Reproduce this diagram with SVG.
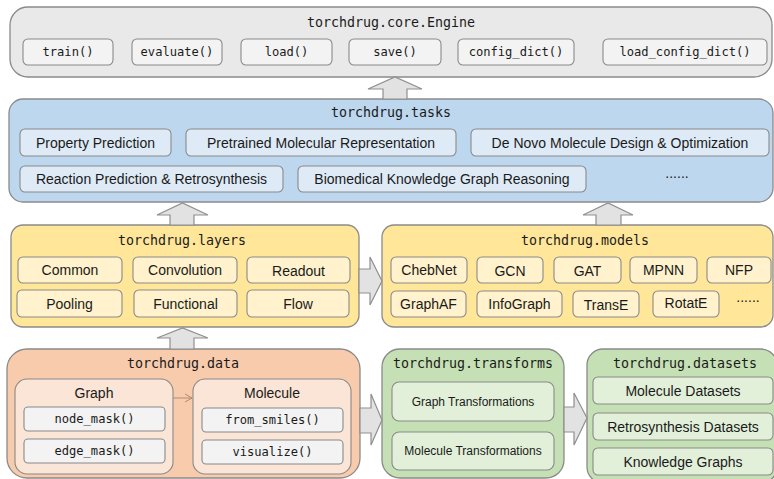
<svg xmlns="http://www.w3.org/2000/svg" width="774" height="479" viewBox="0 0 774 479">
<defs>
<style>
.box{stroke:#8a8a8a;stroke-width:1.3}
.btn{stroke:#8a8a8a;stroke-width:1.1}
.mono{font-family:"DejaVu Sans Mono","Liberation Mono",monospace;fill:#1a1a1a}
.title{font-size:13.3px}
.mb{font-size:12.1px}
.sans{font-family:"Liberation Sans",Arial,sans-serif;fill:#1a1a1a}
.s14{font-size:14px}
.s12{font-size:12px}
.grey{fill:#e9e9e9}
.greyb{fill:#f3f3f3}
.blue{fill:#bdd7ee}
.blueb{fill:#deebf7}
.yel{fill:#ffe699}
.yelb{fill:#fff2cc}
.ora{fill:#f8cbad}
.orab{fill:#fbe5d6}
.gre{fill:#c5e0b4}
.greb{fill:#e2f0d9}
.blk{fill:#e2e2e2;stroke:#8f8f8f;stroke-width:1.2;stroke-linejoin:miter}
text{text-anchor:middle;dominant-baseline:central}
</style>
<marker id="open" markerWidth="10" markerHeight="10" refX="8" refY="5" orient="auto" markerUnits="userSpaceOnUse">
<path d="M1,1 L8,5 L1,9" fill="none" stroke="#b08a74" stroke-width="1"/>
</marker>
</defs>

<g id="engine">
<rect class="box grey" x="10" y="7" width="762" height="70" rx="18"/>
<text class="mono title" x="391" y="22">torchdrug.core.Engine</text>
<rect class="btn greyb" x="23" y="39" width="90" height="26" rx="5"/>
<text class="mono mb" x="68" y="52">train()</text>
<rect class="btn greyb" x="132" y="39" width="90" height="26" rx="5"/>
<text class="mono mb" x="177" y="52">evaluate()</text>
<rect class="btn greyb" x="241" y="39" width="91" height="26" rx="5"/>
<text class="mono mb" x="286.5" y="52">load()</text>
<rect class="btn greyb" x="349" y="39" width="92" height="26" rx="5"/>
<text class="mono mb" x="395" y="52">save()</text>
<rect class="btn greyb" x="458" y="39" width="116" height="26" rx="5"/>
<text class="mono mb" x="516" y="52">config_dict()</text>
<rect class="btn greyb" x="603" y="39" width="164" height="26" rx="5"/>
<text class="mono mb" x="685" y="52">load_config_dict()</text>
</g>

<g id="tasks">
<rect class="box blue" x="9" y="99" width="764" height="103" rx="14"/>
<text class="mono title" x="391" y="112">torchdrug.tasks</text>
<rect class="btn blueb" x="20" y="129" width="151" height="27" rx="5"/>
<text class="sans s14" x="95.5" y="142.5">Property Prediction</text>
<rect class="btn blueb" x="186" y="129" width="270" height="27" rx="5"/>
<text class="sans s14" x="321" y="142.5">Pretrained Molecular Representation</text>
<rect class="btn blueb" x="471" y="129" width="298" height="27" rx="5"/>
<text class="sans s14" x="620" y="142.5">De Novo Molecule Design &amp; Optimization</text>
<rect class="btn blueb" x="20" y="166" width="263" height="26" rx="5"/>
<text class="sans s14" x="151.5" y="179">Reaction Prediction &amp; Retrosynthesis</text>
<rect class="btn blueb" x="298" y="166" width="288" height="26" rx="5"/>
<text class="sans s14" x="442" y="179">Biomedical Knowledge Graph Reasoning</text>
<text class="sans s14" x="677" y="173">......</text>
</g>

<g id="layers">
<rect class="box yel" x="11" y="225" width="348" height="102" rx="12"/>
<text class="mono title" x="182" y="240">torchdrug.layers</text>
<rect class="btn yelb" x="18" y="257" width="104" height="26" rx="5"/>
<text class="sans s14" x="70" y="270">Common</text>
<rect class="btn yelb" x="133" y="257" width="104" height="26" rx="5"/>
<text class="sans s14" x="185" y="270">Convolution</text>
<rect class="btn yelb" x="247" y="257" width="103" height="26" rx="5"/>
<text class="sans s14" x="298.5" y="270.5">Readout</text>
<rect class="btn yelb" x="17" y="290" width="105" height="27" rx="5"/>
<text class="sans s14" x="69.5" y="303.5">Pooling</text>
<rect class="btn yelb" x="134" y="290" width="103" height="27" rx="5"/>
<text class="sans s14" x="185.5" y="303.5">Functional</text>
<rect class="btn yelb" x="247" y="290" width="102" height="27" rx="5"/>
<text class="sans s14" x="298" y="303.5">Flow</text>
</g>

<g id="models">
<rect class="box yel" x="382" y="225" width="391" height="102" rx="12"/>
<text class="mono title" x="585" y="240">torchdrug.models</text>
<rect class="btn yelb" x="391" y="257" width="76" height="26" rx="5"/>
<text class="sans s14" x="429" y="270">ChebNet</text>
<rect class="btn yelb" x="477" y="257" width="66" height="26" rx="5"/>
<text class="sans s14" x="510" y="271">GCN</text>
<rect class="btn yelb" x="554" y="257" width="67" height="26" rx="5"/>
<text class="sans s14" x="587.5" y="271">GAT</text>
<rect class="btn yelb" x="630" y="257" width="67" height="26" rx="5"/>
<text class="sans s14" x="663.5" y="270">MPNN</text>
<rect class="btn yelb" x="707" y="257" width="64" height="26" rx="5"/>
<text class="sans s14" x="739" y="270">NFP</text>
<rect class="btn yelb" x="391" y="291" width="75" height="26" rx="5"/>
<text class="sans s14" x="428.5" y="304">GraphAF</text>
<rect class="btn yelb" x="477" y="291" width="85" height="26" rx="5"/>
<text class="sans s14" x="519.5" y="304">InfoGraph</text>
<rect class="btn yelb" x="573" y="291" width="66" height="26" rx="5"/>
<text class="sans s14" x="606" y="304.5">TransE</text>
<rect class="btn yelb" x="653" y="291" width="66" height="26" rx="5"/>
<text class="sans s14" x="686" y="303">RotatE</text>
<text class="sans s14" x="748" y="297">......</text>
</g>

<g id="data">
<rect class="box ora" x="7" y="349" width="353" height="129" rx="20"/>
<text class="mono title" x="183" y="363">torchdrug.data</text>
<g id="graph">
<rect class="btn orab" x="15" y="379" width="158" height="95" rx="12"/>
<text class="sans s14" x="94" y="393">Graph</text>
<rect class="btn greyb" x="24" y="407" width="141" height="24" rx="4"/>
<text class="mono mb" x="94.5" y="419">node_mask()</text>
<rect class="btn greyb" x="24" y="439" width="141" height="24" rx="4"/>
<text class="mono mb" x="94.5" y="451">edge_mask()</text>
</g>
<g id="molecule">
<rect class="btn orab" x="193" y="379" width="158" height="95" rx="12"/>
<text class="sans s14" x="272" y="393">Molecule</text>
<rect class="btn greyb" x="202" y="408" width="141" height="24" rx="4"/>
<text class="mono mb" x="272.5" y="420">from_smiles()</text>
<rect class="btn greyb" x="202" y="440" width="141" height="24" rx="4"/>
<text class="mono mb" x="272.5" y="452">visualize()</text>
</g>
</g>

<g id="transforms">
<rect class="box gre" x="382" y="349" width="182" height="129" rx="18"/>
<text class="mono title" x="473" y="363">torchdrug.transforms</text>
<rect class="btn greb" x="392" y="382" width="162" height="39" rx="7"/>
<text class="sans s12" x="473" y="401.5">Graph Transformations</text>
<rect class="btn greb" x="392" y="432" width="162" height="38" rx="7"/>
<text class="sans s12" x="473" y="451">Molecule Transformations</text>
</g>

<g id="datasets">
<rect class="box gre" x="587" y="349" width="190" height="134" rx="16"/>
<text class="mono title" x="685" y="363">torchdrug.datasets</text>
<rect class="btn greb" x="593" y="377" width="180" height="27" rx="5"/>
<text class="sans s14" x="683" y="390.5">Molecule Datasets</text>
<rect class="btn greb" x="593" y="413" width="180" height="27" rx="5"/>
<text class="sans s14" x="683" y="426.5">Retrosynthesis Datasets</text>
<rect class="btn greb" x="593" y="448" width="180" height="27" rx="5"/>
<text class="sans s14" x="683" y="461.5">Knowledge Graphs</text>
</g>

<g id="connectors">
<polygon class="blk" points="383,99 383,89 368,89 395,77 422,89 407,89 407,99"/>
<polygon class="blk" points="170,225 170,215 157,215 182.5,203 208,215 194,215 194,225"/>
<polygon class="blk" points="596,225 596,215 583,215 608,203 633,215 621,215 621,225"/>
<polygon class="blk" points="170,349 170,338 157,338 182.5,328 208,338 194,338 194,349"/>
<polygon class="blk" points="359,269 370,269 370,257 382,281 370,305 370,293 359,293"/>
<polygon class="blk" points="360,408 371,408 371,394 382,420 371,445 371,433 360,433"/>
<polygon class="blk" points="564,407 574,407 574,393 587,418 574,445 574,432 564,432"/>
<line x1="173" y1="398" x2="192" y2="398" stroke="#b08a74" stroke-width="1" marker-end="url(#open)"/>
</g>
</svg>
